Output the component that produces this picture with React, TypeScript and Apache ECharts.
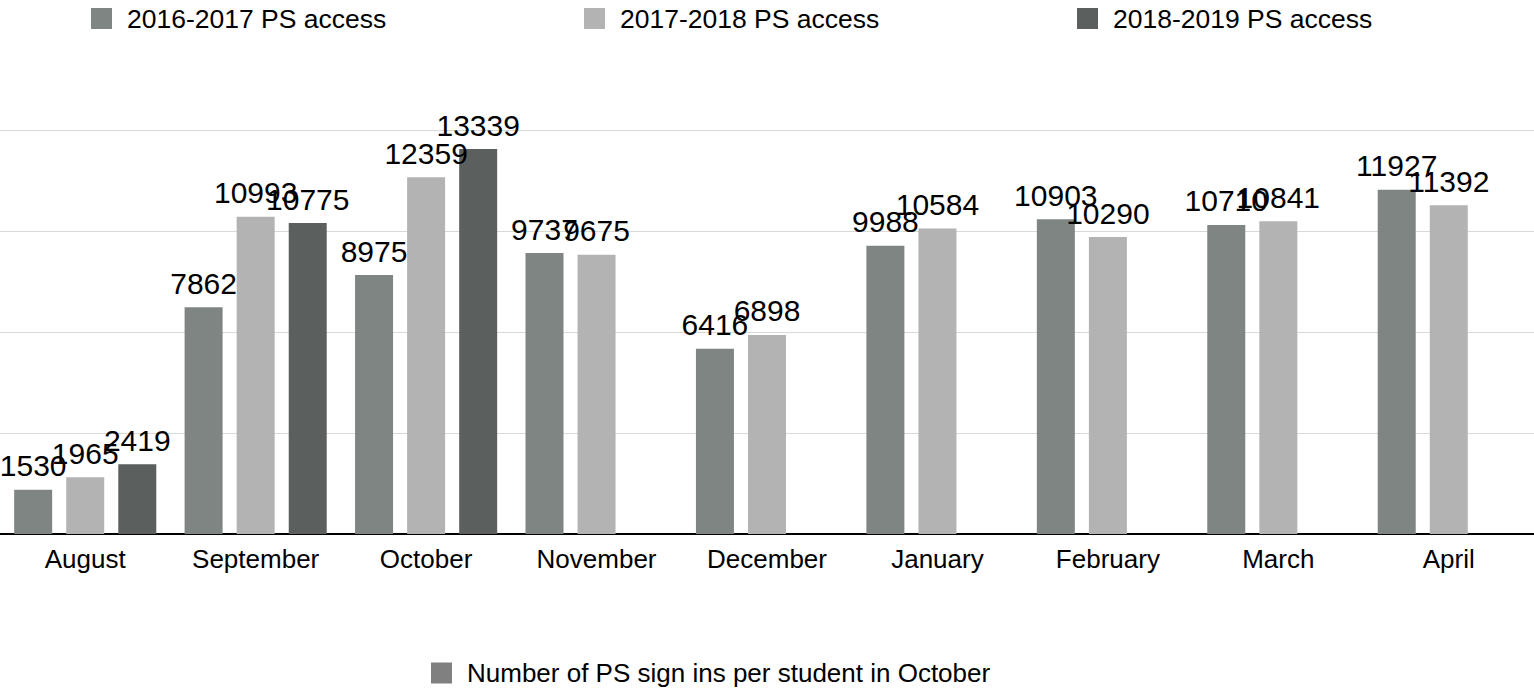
import React, { useEffect, useRef } from "react";
import * as echarts from "echarts";

const months = ["August", "September", "October", "November", "December", "January", "February", "March", "April"];
const s2016 = [1530, 7862, 8975, 9737, 6416, 9988, 10903, 10710, 11927];
const s2017 = [1965, 10993, 12359, 9675, 6898, 10584, 10290, 10841, 11392];
const s2018 = [2419, 10775, 13339, null, null, null, null, null, null];
const seriesNames = ["2016-2017 PS access", "2017-2018 PS access", "2018-2019 PS access"];
const extraName = "Number of PS sign ins per student in October";
const colors = ["#7f8582", "#b3b3b3", "#5b5f5d"];

const FONT = "'Liberation Sans', Arial, Helvetica, sans-serif";

export default function App() {
  const ref = useRef<HTMLDivElement>(null);
  useEffect(() => {
    if (!ref.current) return;
    const chart = echarts.init(ref.current, undefined, { renderer: "svg" });
    const legendBase = (name: string, left: number, top: number, fontSize: number) => ({
      data: [name],
      left,
      top,
      padding: 0,
      orient: "horizontal",
      icon: "rect",
      itemWidth: 21,
      itemHeight: 21,
      selectedMode: false,
      textStyle: {
        fontFamily: FONT,
        fontSize,
        lineHeight: fontSize,
        color: "#000",
        padding: [0, 0, 0, 10],
      },
    });
    const mkBar = (name: string, data: (number | null)[], color: string) => ({
      name,
      type: "bar",
      data,
      barWidth: 38,
      barGap: "37%",
      itemStyle: { color },
      label: {
        show: true,
        position: "top",
        distance: 9,
        color: "#000",
        fontFamily: FONT,
        fontSize: 30,
      },
    });
    chart.setOption({
      animation: false,
      backgroundColor: "#fff",
      textStyle: { fontFamily: FONT },
      legend: [
        legendBase(seriesNames[0], 91, 5, 26.5),
        legendBase(seriesNames[1], 584, 5, 26.5),
        legendBase(seriesNames[2], 1077, 5, 26.5),
        legendBase(extraName, 431, 660, 26),
      ],
      grid: { left: 0, right: 0, top: 130, bottom: 154, containLabel: false },
      xAxis: {
        type: "category",
        data: months,
        axisLine: { show: true, lineStyle: { color: "#000", width: 2 } },
        axisTick: { show: false },
        axisLabel: { color: "#000", fontFamily: FONT, fontSize: 26, margin: 12 },
      },
      yAxis: {
        type: "value",
        min: 0,
        max: 14000,
        interval: 3500,
        axisLabel: { show: false },
        axisLine: { show: false },
        axisTick: { show: false },
        splitLine: { show: true, lineStyle: { color: "#d9d9d9", width: 1 } },
      },
      series: [
        mkBar(seriesNames[0], s2016, colors[0]),
        mkBar(seriesNames[1], s2017, colors[1]),
        mkBar(seriesNames[2], s2018, colors[2]),
        {
          name: extraName,
          type: "line",
          data: [],
          itemStyle: { color: "#808080" },
          lineStyle: { color: "#808080" },
        },
      ],
    });
    return () => chart.dispose();
  }, []);
  return (
    <div
      ref={ref}
      style={{ position: "absolute", left: 0, top: 0, width: 1534, height: 688 }}
    />
  );
}
